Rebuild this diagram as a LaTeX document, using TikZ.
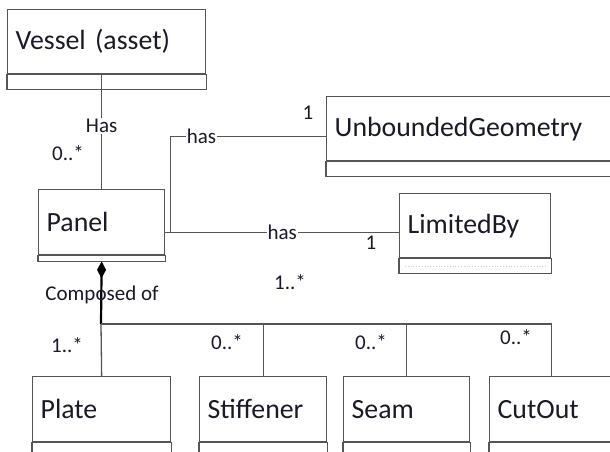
\documentclass[tikz,border=0pt]{standalone}
\usepackage{fontspec}
\setmainfont{Carlito}
\usetikzlibrary{arrows.meta}

\definecolor{linegray}{RGB}{85,85,85}
\definecolor{inkcol}{RGB}{25,25,40}

\tikzset{
  classname/.style={draw=linegray, line width=1.3pt, anchor=north west,
    inner xsep=8pt, inner ysep=0pt, align=left, text=inkcol,
    font=\fontsize{27.8}{31}\selectfont},
  compart/.style={draw=linegray, line width=1.3pt},
  assoc/.style={draw=linegray, line width=1.3pt},
  compose/.style={draw=black, line width=2.2pt, {Diamond[length=17pt,width=9pt]}-},
  lbl/.style={text=inkcol, inner sep=1pt, font=\fontsize{21}{24}\selectfont},
}

\begin{document}
\begin{tikzpicture}[x=1pt, y=-1pt]
\useasboundingbox (0,0) rectangle (610,452);

% classes
\node[classname, text width=182pt, minimum height=64pt] (vessel) at (7,9) {Vessel (asset)};
\node[classname, text width=110pt, minimum height=65pt] (panel) at (38,189) {Panel};
\node[classname, text width=274pt, minimum height=64pt] (unbounded) at (326,96) {UnboundedGeometry};
\node[classname, text width=135pt, minimum height=64pt] (limitedby) at (399,193) {LimitedBy};
\node[classname, text width=122pt, minimum height=65pt] (plate) at (32,376) {Plate};
\node[classname, text width=111pt, minimum height=65pt] (stiffener) at (199,376) {Stiffener};
\node[classname, text width=110pt, minimum height=65pt] (seam) at (343,376) {Seam};
\node[classname, text width=108pt, minimum height=65pt] (cutout) at (489,376) {CutOut};

% empty attribute compartments
\draw[compart] (vessel.south west) rectangle ([yshift=-15pt]vessel.south east);
\draw[compart] (panel.south west) rectangle ([yshift=-6pt]panel.south east);
\draw[compart] (unbounded.south west) rectangle ([yshift=-15pt]unbounded.south east);
\draw[compart] (limitedby.south west) rectangle ([yshift=-15pt]limitedby.south east);
\draw[gray!40, line width=0.8pt, dotted] ([xshift=6pt,yshift=-8pt]limitedby.south west) -- ([xshift=-6pt,yshift=-8pt]limitedby.south east);
\foreach \c in {plate, stiffener, seam, cutout}
  \draw[compart] (\c.south west) rectangle ([yshift=-20pt]\c.south east);

% associations
\draw[assoc] (panel.north) -- node[lbl, fill=white, pos=0.55] {Has} (panel.north |- vessel.south) ++(0,15);
\draw[assoc] ([yshift=-10.5pt]panel.east) -- node[lbl, fill=white] {has} ([yshift=-10.5pt]panel.east -| limitedby.west);
\draw[assoc] ([xshift=5pt,yshift=-10.5pt]panel.east) |- node[lbl, fill=white, pos=0.6] {has} ([yshift=-8pt]unbounded.west);

% composition
\coordinate (fork) at (101,324);
\draw[compose] ([yshift=-6pt]panel.south) -- (fork);
\draw[assoc] (fork) -- (plate.north);
\draw[assoc] (fork) -| (stiffener.north);
\draw[assoc] (fork) -| (seam.north);
\draw[assoc] (fork) -| (cutout.north);
\node[lbl] (composed) at (102,295) {Composed of};

% multiplicities
\node[lbl] (mvessel) at (68,153) {0..*};
\node[lbl] (munb) at (308,113) {1};
\node[lbl] (mlim) at (371,243) {1};
\node[lbl] (mpanel) at (290,282) {1..*};
\node[lbl] (mplate) at (67,345) {1..*};
\node[lbl] (mstiff) at (227,342) {0..*};
\node[lbl] (mseam) at (371,342) {0..*};
\node[lbl] (mcut) at (516,337) {0..*};
\end{tikzpicture}
\end{document}
